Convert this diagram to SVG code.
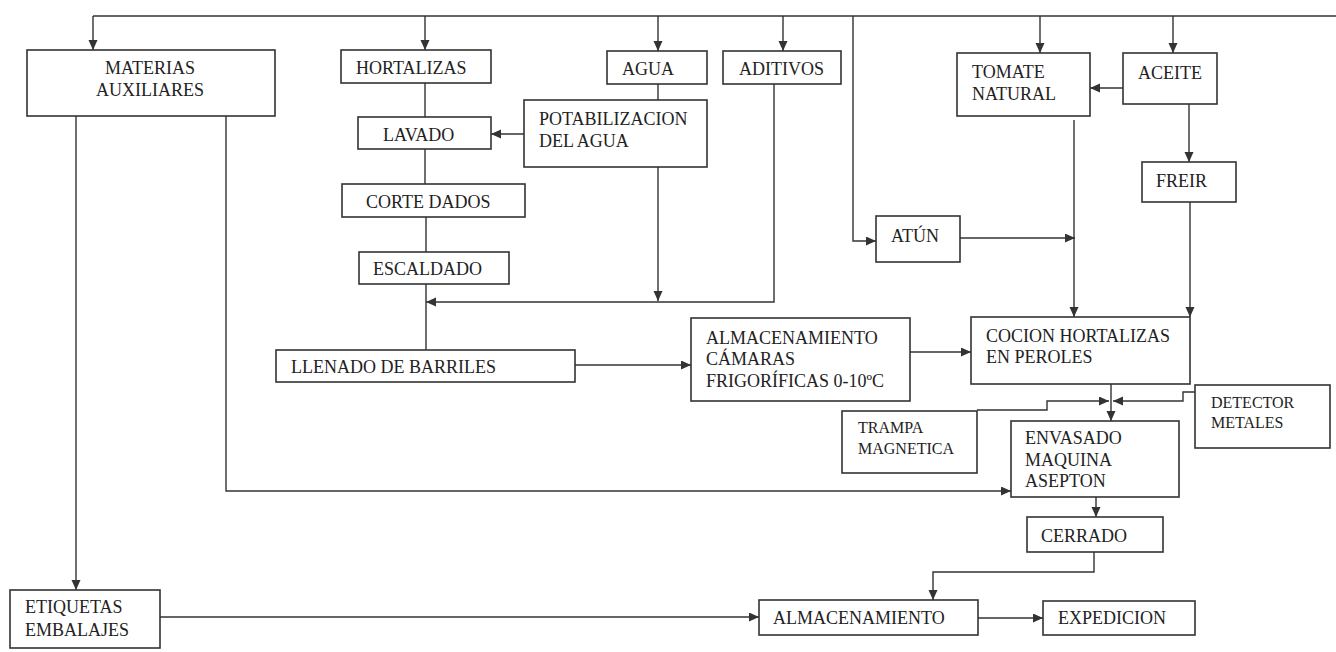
<svg xmlns="http://www.w3.org/2000/svg" width="1336" height="652" viewBox="0 0 1336 652">
<style>
.b{fill:#fff;stroke:#333;stroke-width:1.6}
.t{font-family:"Liberation Serif","Times New Roman",serif;font-size:18px;fill:#222}
.s{font-size:16px}
.c{fill:none;stroke:#333;stroke-width:1.4}
.a{marker-end:url(#ah)}
</style>
<defs>
<marker id="ah" markerUnits="userSpaceOnUse" markerWidth="11" markerHeight="10" refX="10" refY="4.5" orient="auto">
<path d="M0,0 L10,4.5 L0,9 z" fill="#333"/>
</marker>
</defs>
<rect width="1336" height="652" fill="#fff"/>
<g id="connectors">
<path class="c" d="M93 16 H1336"/>
<path class="c a" d="M93 16 V50"/>
<path class="c a" d="M425 16 V50"/>
<path class="c a" d="M658 16 V51"/>
<path class="c a" d="M783 16 V51"/>
<path class="c a" d="M1040 16 V53"/>
<path class="c a" d="M1173 16 V53"/>
<path class="c a" d="M853 16 V241 H876"/>
<path class="c" d="M425 83 V117 M425 149 V184 M426 217 V252 M426 284 V350"/>
<path class="c" d="M658 84 V100"/>
<path class="c a" d="M524 134 H491"/>
<path class="c a" d="M658 167 V301"/>
<path class="c a" d="M774 84 V302 H426"/>
<path class="c a" d="M960 238 H1075"/>
<path class="c a" d="M1074 120 V317"/>
<path class="c a" d="M1123 88 H1090"/>
<path class="c a" d="M1189 104 V162"/>
<path class="c a" d="M1190 202 V317"/>
<path class="c a" d="M575 365 H691"/>
<path class="c a" d="M910 352 H971"/>
<path class="c a" d="M1111 384 V421"/>
<path class="c a" d="M977 410 H1047 V401 H1109"/>
<path class="c a" d="M1195 392 H1183 V401 H1113"/>
<path class="c a" d="M226 116 V491 H1011"/>
<path class="c a" d="M76 116 V590"/>
<path class="c a" d="M1096 497 V517"/>
<path class="c a" d="M1094 552 V572 H933 V600"/>
<path class="c a" d="M160 617 H759"/>
<path class="c a" d="M978 618 H1043"/>
</g>
<g id="materias"><rect class="b" x="27" y="50" width="248" height="66"/><text class="t" x="150" y="74" text-anchor="middle">MATERIAS</text><text class="t" x="150" y="96" text-anchor="middle">AUXILIARES</text></g>
<g id="hortalizas"><rect class="b" x="341" y="50" width="150" height="33"/><text class="t" x="356" y="74">HORTALIZAS</text></g>
<g id="agua"><rect class="b" x="607" y="51" width="100" height="33"/><text class="t" x="622" y="75">AGUA</text></g>
<g id="aditivos"><rect class="b" x="723" y="51" width="118" height="33"/><text class="t" x="739" y="75">ADITIVOS</text></g>
<g id="tomate"><rect class="b" x="957" y="53" width="133" height="63"/><text class="t" x="972" y="78">TOMATE</text><text class="t" x="972" y="100">NATURAL</text></g>
<g id="aceite"><rect class="b" x="1123" y="53" width="94" height="51"/><text class="t" x="1138" y="79">ACEITE</text></g>
<g id="lavado"><rect class="b" x="358" y="117" width="133" height="32"/><text class="t" x="383" y="141">LAVADO</text></g>
<g id="potabilizacion"><rect class="b" x="524" y="100" width="183" height="67"/><text class="t" x="539" y="125">POTABILIZACION</text><text class="t" x="539" y="147">DEL AGUA</text></g>
<g id="freir"><rect class="b" x="1142" y="162" width="94" height="40"/><text class="t" x="1156" y="187">FREIR</text></g>
<g id="corte"><rect class="b" x="342" y="184" width="183" height="33"/><text class="t" x="366" y="208">CORTE DADOS</text></g>
<g id="atun"><rect class="b" x="876" y="216" width="84" height="46"/><text class="t" x="891" y="242">ATÚN</text></g>
<g id="escaldado"><rect class="b" x="359" y="252" width="150" height="32"/><text class="t" x="373" y="275">ESCALDADO</text></g>
<g id="llenado"><rect class="b" x="276" y="350" width="299" height="32"/><text class="t" x="291" y="373">LLENADO DE BARRILES</text></g>
<g id="almacen-camaras"><rect class="b" x="691" y="318" width="219" height="83"/><text class="t" x="706" y="344">ALMACENAMIENTO</text><text class="t" x="706" y="365">CÁMARAS</text><text class="t" x="706" y="387">FRIGORÍFICAS 0-10ºC</text></g>
<g id="cocion"><rect class="b" x="971" y="317" width="219" height="67"/><text class="t" x="986" y="342">COCION HORTALIZAS</text><text class="t" x="986" y="363">EN PEROLES</text></g>
<g id="detector"><rect class="b" x="1195" y="385" width="135" height="63"/><text class="t s" x="1211" y="408">DETECTOR</text><text class="t s" x="1211" y="428">METALES</text></g>
<g id="trampa"><rect class="b" x="842" y="411" width="135" height="62"/><text class="t s" x="858" y="433">TRAMPA</text><text class="t s" x="858" y="454">MAGNETICA</text></g>
<g id="envasado"><rect class="b" x="1011" y="421" width="168" height="76"/><text class="t" x="1025" y="444">ENVASADO</text><text class="t" x="1025" y="466">MAQUINA</text><text class="t" x="1025" y="487">ASEPTON</text></g>
<g id="cerrado"><rect class="b" x="1027" y="517" width="136" height="35"/><text class="t" x="1041" y="542">CERRADO</text></g>
<g id="almacenamiento"><rect class="b" x="759" y="600" width="219" height="35"/><text class="t" x="773" y="624">ALMACENAMIENTO</text></g>
<g id="expedicion"><rect class="b" x="1043" y="601" width="152" height="34"/><text class="t" x="1058" y="624">EXPEDICION</text></g>
<g id="etiquetas"><rect class="b" x="10" y="590" width="150" height="58"/><text class="t" x="25" y="613">ETIQUETAS</text><text class="t" x="25" y="636">EMBALAJES</text></g>
</svg>
